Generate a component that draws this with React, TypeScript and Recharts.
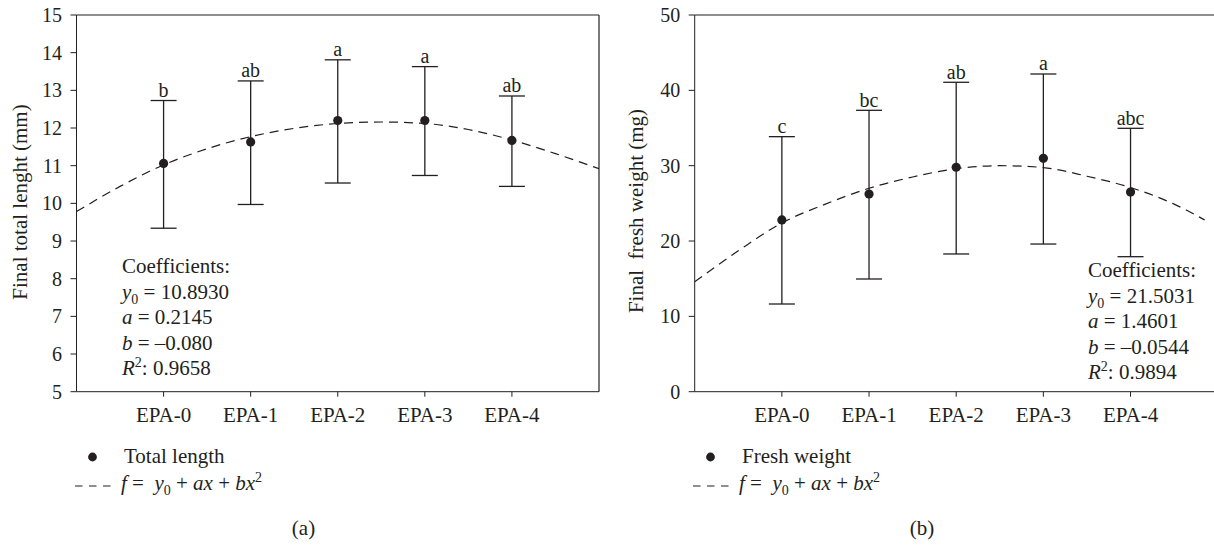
import React from 'react';
import { ComposedChart, Scatter, Line, XAxis, YAxis, ErrorBar, ReferenceLine } from 'recharts';

const categories = ['EPA-0', 'EPA-1', 'EPA-2', 'EPA-3', 'EPA-4'];

// (a) total length, mm
const lengthMean = [11.06, 11.63, 12.2, 12.2, 11.67];
const lengthUpper = [12.73, 13.25, 13.81, 13.63, 12.85];
const lengthLower = [9.34, 9.97, 10.54, 10.74, 10.45];
const lengthLetters = ['b', 'ab', 'a', 'a', 'ab'];
const lengthFitX = [-1, -0.5, 0, 0.5, 1, 1.5, 2, 2.5, 3, 3.5, 4, 4.5, 5];
const lengthFitY = [9.78, 10.45, 11.02, 11.45, 11.77, 11.99, 12.12, 12.16, 12.12, 11.96, 11.68, 11.32, 10.92];
const lengthTicks = [5, 6, 7, 8, 9, 10, 11, 12, 13, 14, 15];

// (b) fresh weight, mg
const weightMean = [22.8, 26.24, 29.79, 30.98, 26.5];
const weightUpper = [33.85, 37.35, 41.07, 42.17, 34.96];
const weightLower = [11.64, 14.96, 18.28, 19.6, 17.92];
const weightLetters = ['c', 'bc', 'ab', 'a', 'abc'];
const weightFitX = [-1, -0.5, 0, 0.5, 1, 1.5, 2, 2.5, 3, 3.5, 4, 4.5, 4.85];
const weightFitY = [14.6, 18.7, 22.4, 24.9, 27.0, 28.5, 29.6, 30.0, 29.75, 28.6, 27.1, 24.9, 22.8];
const weightTicks = [0, 10, 20, 30, 40, 50];

const INK = '#231f20';
const FONT = '"Liberation Serif", "DejaVu Serif", serif';
const txt = { fontFamily: FONT, fill: INK };

const buildPoints = (mean: number[], lower: number[], upper: number[]) =>
  mean.map((m, i) => ({ x: i, y: m, err: [m - lower[i], upper[i] - m] }));
const buildLetters = (upper: number[], letters: string[]) =>
  upper.map((u, i) => ({ x: i, y: u, letter: letters[i] }));
const buildFit = (xs: number[], ys: number[]) => xs.map((x, i) => ({ x, y: ys[i] }));

const Dot = (props: any) => <circle cx={props.cx} cy={props.cy} r={4.6} fill={INK} />;
const Letter = (props: any) => (
  <text x={props.cx} y={props.cy - 3.5} textAnchor="middle" fontSize={20} style={txt}>
    {props.payload.letter}
  </text>
);

interface PanelProps {
  mean: number[];
  lower: number[];
  upper: number[];
  letters: string[];
  fitX: number[];
  fitY: number[];
  ticks: number[];
  marginLeft: number;
  marginRight: number;
}

function Panel({ mean, lower, upper, letters, fitX, fitY, ticks, marginLeft, marginRight }: PanelProps) {
  const lo = ticks[0];
  const hi = ticks[ticks.length - 1];
  return (
    <ComposedChart width={620} height={440} margin={{ top: 15, right: marginRight, bottom: 18.3, left: marginLeft }}>
      <XAxis
        type="number"
        dataKey="x"
        domain={[-1, 5]}
        ticks={[0, 1, 2, 3, 4]}
        tickFormatter={(v) => categories[v]}
        allowDataOverflow
        height={30}
        stroke={INK}
        tickSize={5}
        tickMargin={10}
        tick={{ fill: INK, fontSize: 21, fontFamily: FONT }}
      />
      <YAxis
        type="number"
        dataKey="y"
        domain={[lo, hi]}
        ticks={ticks}
        allowDataOverflow
        width={60}
        stroke={INK}
        tickSize={6}
        tickMargin={8.5}
        tick={{ fill: INK, fontSize: 20, fontFamily: FONT }}
      />
      <ReferenceLine y={hi} stroke={INK} strokeWidth={1.2} />
      <ReferenceLine x={5} stroke={INK} strokeWidth={1.2} />
      <Line
        data={buildFit(fitX, fitY)}
        dataKey="y"
        type="monotone"
        stroke={INK}
        strokeWidth={1.2}
        strokeDasharray="9 6"
        dot={false}
        isAnimationActive={false}
      />
      <Scatter data={buildPoints(mean, lower, upper)} shape={Dot} isAnimationActive={false}>
        <ErrorBar dataKey="err" direction="y" width={13} stroke={INK} strokeWidth={1.3} isAnimationActive={false} />
      </Scatter>
      <Scatter data={buildLetters(upper, letters)} shape={Letter} isAnimationActive={false} />
    </ComposedChart>
  );
}

const Coefs = ({ x, y, y0, a, b, r2 }: { x: number; y: number; y0: string; a: string; b: string; r2: string }) => (
  <g fontSize={21} style={txt}>
    <text x={x} y={y} style={txt}>Coefficients:</text>
    <text x={x} y={y + 25.5} style={txt}>
      <tspan fontStyle="italic">y</tspan>
      <tspan fontSize={14} dy={5}>0</tspan>
      <tspan dy={-5}> = {y0}</tspan>
    </text>
    <text x={x} y={y + 51} style={txt}>
      <tspan fontStyle="italic">a</tspan> = {a}
    </text>
    <text x={x} y={y + 76.5} style={txt}>
      <tspan fontStyle="italic">b</tspan> = {b}
    </text>
    <text x={x} y={y + 102} style={txt}>
      <tspan fontStyle="italic">R</tspan>
      <tspan fontSize={14} dy={-8}>2</tspan>
      <tspan dy={8}>: {r2}</tspan>
    </text>
  </g>
);

const Legend = ({ x, name }: { x: number; name: string }) => (
  <g fontSize={21} style={txt}>
    <circle cx={x + 17.5} cy={457} r={4.4} fill={INK} />
    <text x={x + 49} y={463} style={txt}>{name}</text>
    <line x1={x} y1={486} x2={x + 36} y2={486} stroke={INK} strokeWidth={1.2} strokeDasharray="7.5 6.5" />
    <text x={x + 46} y={490} style={{ ...txt, whiteSpace: 'pre' }}>
      <tspan fontStyle="italic">f</tspan>
      <tspan>{' =  '}</tspan>
      <tspan fontStyle="italic">y</tspan>
      <tspan fontSize={14} dy={5}>0</tspan>
      <tspan dy={-5}> + </tspan>
      <tspan fontStyle="italic">ax</tspan>
      <tspan> + </tspan>
      <tspan fontStyle="italic">bx</tspan>
      <tspan fontSize={14} dy={-8}>2</tspan>
    </text>
  </g>
);

export default function App() {
  return (
    <div style={{ position: 'absolute', left: 0, top: 0, width: 1214, height: 547, overflow: 'hidden', background: '#fff' }}>
      <div style={{ position: 'absolute', left: 0, top: 0 }}>
        <Panel
          mean={lengthMean}
          lower={lengthLower}
          upper={lengthUpper}
          letters={lengthLetters}
          fitX={lengthFitX}
          fitY={lengthFitY}
          ticks={lengthTicks}
          marginLeft={16.5}
          marginRight={21}
        />
      </div>
      <div style={{ position: 'absolute', left: 608, top: 0 }}>
        <Panel
          mean={weightMean}
          lower={weightLower}
          upper={weightUpper}
          letters={weightLetters}
          fitX={weightFitX}
          fitY={weightFitY}
          ticks={weightTicks}
          marginLeft={26.7}
          marginRight={10.3}
        />
      </div>
      <svg width={1214} height={547} style={{ position: 'absolute', left: 0, top: 0, pointerEvents: 'none' }}>
        <text transform="translate(27,202) rotate(-90)" textAnchor="middle" fontSize={21} style={txt}>
          Final total lenght (mm)
        </text>
        <text
          transform="translate(643,211) rotate(-90)"
          textAnchor="middle"
          fontSize={21}
          style={{ ...txt, whiteSpace: 'pre' }}
        >
          {'Final  fresh weight (mg)'}
        </text>
        <Coefs x={122} y={273} y0="10.8930" a="0.2145" b="–0.080" r2="0.9658" />
        <Coefs x={1088} y={277} y0="21.5031" a="1.4601" b="–0.0544" r2="0.9894" />
        <Legend x={75} name="Total length" />
        <Legend x={693} name="Fresh weight" />
        <text x={303.5} y={535} textAnchor="middle" fontSize={21} style={txt}>(a)</text>
        <text x={922} y={535} textAnchor="middle" fontSize={21} style={txt}>(b)</text>
      </svg>
    </div>
  );
}
